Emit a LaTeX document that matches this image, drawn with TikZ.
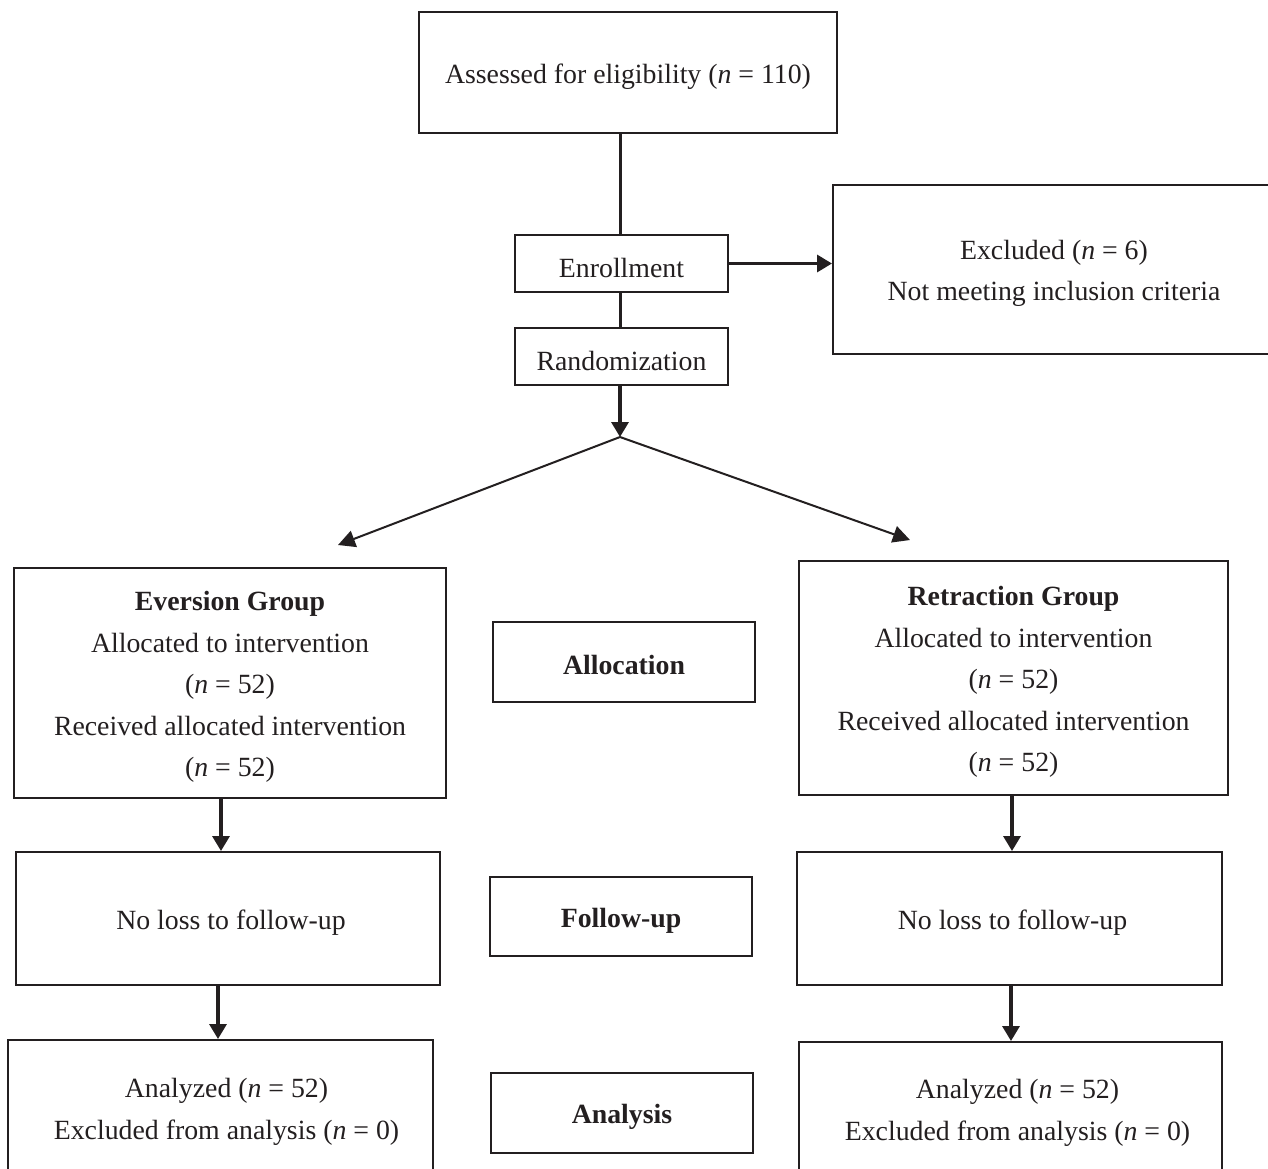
\documentclass[tikz,border=0pt]{standalone}
\usepackage{fontspec}
\setmainfont{Liberation Serif}
\usetikzlibrary{arrows.meta}
\definecolor{ink}{HTML}{231F20}
\begin{document}
\begin{tikzpicture}[x=1pt,y=-1pt,
  every node/.style={font=\fontsize{27.8}{41.5}\selectfont, text=ink},
  box/.style={draw=ink, line width=2pt, inner sep=0pt, rectangle},
  txt/.style={inner sep=0pt, align=center},
  conn/.style={draw=ink, line width=3pt},
  arr/.style={draw=ink, line width=3.3pt, -{Triangle[length=15pt,width=17pt]}},
  darr/.style={draw=ink, line width=2pt, -{Triangle[length=17pt,width=17pt]}}]
\clip (0,0) rectangle (1268,1168);
\fill[white] (0,0) rectangle (1268,1168);
% boxes
\node[box, minimum width=418pt, minimum height=121pt] (assess) at (628,72.5) {};
\node[box, minimum width=213pt, minimum height=57pt] (enroll) at (621.5,263.5) {};
\node[box, minimum width=213pt, minimum height=57pt] (rand) at (621.5,356.5) {};
\node[box, minimum width=442pt, minimum height=169pt] (excl) at (1054,269.5) {};
\node[box, minimum width=432pt, minimum height=230pt] (ever) at (230,683) {};
\node[box, minimum width=262pt, minimum height=80pt] (alloc) at (624,662) {};
\node[box, minimum width=429pt, minimum height=234pt] (retr) at (1013.5,678) {};
\node[box, minimum width=424pt, minimum height=133pt] (loss1) at (228,918.5) {};
\node[box, minimum width=262pt, minimum height=79pt] (fup) at (621,916.5) {};
\node[box, minimum width=425pt, minimum height=133pt] (loss2) at (1009.5,918.5) {};
\node[box, minimum width=425pt, minimum height=136pt] (anl1) at (220.5,1108) {};
\node[box, minimum width=262pt, minimum height=80pt] (anal) at (622,1113) {};
\node[box, minimum width=423pt, minimum height=134pt] (anl2) at (1010.5,1109) {};
% texts
\node[txt] (assessT) at ([yshift=-4pt]assess.center) {Assessed for eligibility (\textit{n} = 110)};
\node[txt] (enrollT) at ([yshift=-4pt]enroll.center) {Enrollment};
\node[txt] (randT) at ([yshift=-4pt]rand.center) {Randomization};
\node[txt] (exclT) at ([yshift=-4pt]excl.center) {Excluded (\textit{n} = 6)\\Not meeting inclusion criteria};
\node[txt] (everT) at ([yshift=-4pt]ever.center) {\textbf{Eversion Group}\\Allocated to intervention\\(\textit{n} = 52)\\Received allocated intervention\\(\textit{n} = 52)};
\node[txt] (allocT) at ([yshift=-3pt]alloc.center) {\textbf{Allocation}};
\node[txt] (retrT) at ([yshift=-4pt]retr.center) {\textbf{Retraction Group}\\Allocated to intervention\\(\textit{n} = 52)\\Received allocated intervention\\(\textit{n} = 52)};
\node[txt] (loss1T) at ([xshift=3pt,yshift=-4pt]loss1.center) {No loss to follow-up};
\node[txt] (fupT) at ([yshift=-4pt]fup.center) {\textbf{Follow-up}};
\node[txt] (loss2T) at ([xshift=3pt,yshift=-4pt]loss2.center) {No loss to follow-up};
\node[txt] (anl1T) at ([xshift=6pt,yshift=-4pt]anl1.center) {Analyzed (\textit{n} = 52)\\Excluded from analysis (\textit{n} = 0)};
\node[txt] (analT) at ([yshift=-4pt]anal.center) {\textbf{Analysis}};
\node[txt] (anl2T) at ([xshift=7pt,yshift=-4pt]anl2.center) {Analyzed (\textit{n} = 52)\\Excluded from analysis (\textit{n} = 0)};
% connectors
\coordinate (split) at (620,437);
\coordinate (tipL) at (338,545);
\coordinate (tipR) at (910,540);
\draw[conn] ([xshift=-1.5pt]assess.south -| enroll.north) -- ([xshift=-1.5pt]enroll.north);
\draw[conn] ([xshift=-1.5pt]enroll.south) -- ([xshift=-1.5pt]rand.north);
\draw[arr] ([xshift=-1.5pt]rand.south) -- (split);
\draw[darr] (split) -- (tipL);
\draw[darr] (split) -- (tipR);
\draw[arr] (enroll.east) -- (enroll.east -| excl.west);
\draw[arr] ([xshift=-9pt]ever.south) -- ([xshift=-9pt]ever.south |- loss1.north);
\draw[arr] ([xshift=-1.5pt]retr.south) -- ([xshift=-1.5pt]retr.south |- loss2.north);
\draw[arr] ([xshift=-10pt]loss1.south) -- ([xshift=-10pt]loss1.south |- anl1.north);
\draw[arr] ([xshift=1.5pt]loss2.south) -- ([xshift=1.5pt]loss2.south |- anl2.north);
\end{tikzpicture}
\end{document}
